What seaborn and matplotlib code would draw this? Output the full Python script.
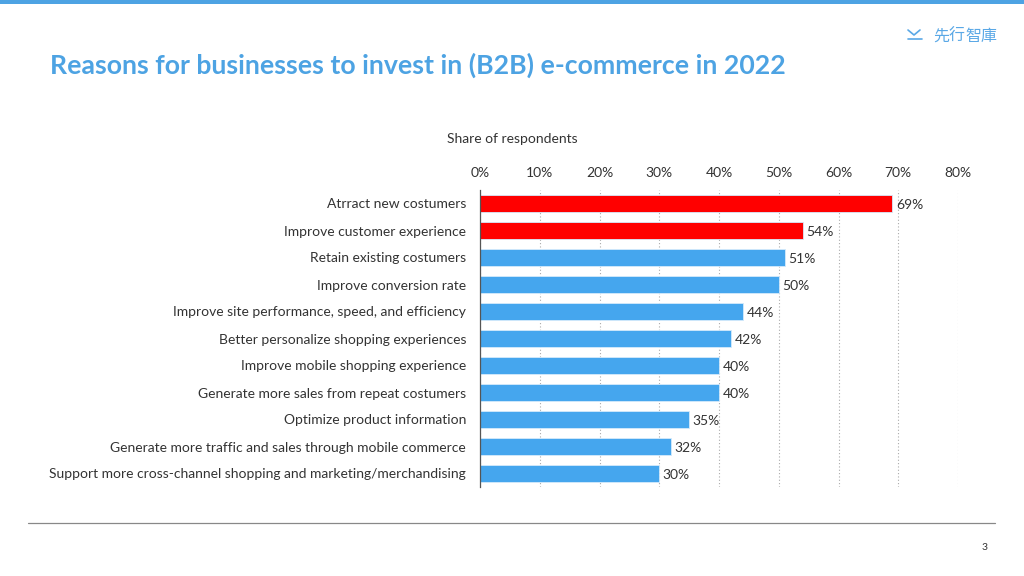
import matplotlib
matplotlib.use("Agg")
import matplotlib.pyplot as plt
import seaborn as sns
import pandas as pd
from matplotlib.lines import Line2D
from matplotlib.patches import Rectangle

categories = [
    "Atrract new costumers",
    "Improve customer experience",
    "Retain existing costumers",
    "Improve conversion rate",
    "Improve site performance, speed, and efficiency",
    "Better personalize shopping experiences",
    "Improve mobile shopping experience",
    "Generate more sales from repeat costumers",
    "Optimize product information",
    "Generate more traffic and sales through mobile commerce",
    "Support more cross-channel shopping and marketing/merchandising",
]
values = [69, 54, 51, 50, 44, 42, 40, 40, 35, 32, 30]
highlight = [True, True, False, False, False, False, False, False, False, False, False]
xticks = [0, 10, 20, 30, 40, 50, 60, 70, 80]
xticklabels = ["0%", "10%", "20%", "30%", "40%", "50%", "60%", "70%", "80%"]

RED = "#ff0000"
BLUE = "#45a6ee"
TITLE_BLUE = "#4da3e3"

sns.set_theme(style="white")
plt.rcParams["font.family"] = ["Lato", "Noto Sans CJK TC", "DejaVu Sans"]

df = pd.DataFrame({"cat": categories, "val": values,
                   "grp": ["hi" if h else "lo" for h in highlight]})

fig = plt.figure(figsize=(10.24, 5.76), dpi=100)
ax = fig.add_axes([480/1024, 1-487/576, (958-480)/1024, (487-190)/576])

sns.barplot(data=df, y="cat", x="val", hue="grp", palette={"hi": RED, "lo": BLUE},
            order=categories, dodge=False, width=0.6, legend=False, ax=ax,
            saturation=1, edgecolor="#d5eafb", linewidth=0.6)

ax.set_xlim(0, 80)
ax.set_xticks(xticks)
ax.set_xticklabels(xticklabels, fontsize=10, color="#333333")
ax.xaxis.tick_top()
ax.tick_params(axis="x", length=0, pad=8)
ax.tick_params(axis="y", length=0, pad=10, labelsize=10, labelcolor="#333333")
ax.set_ylabel("")
ax.set_xlabel("")
for s in ["top", "right", "bottom"]:
    ax.spines[s].set_visible(False)
ax.spines["left"].set_color("#555555")
ax.spines["left"].set_linewidth(0.9)
ax.xaxis.grid(True, linestyle=(0, (1, 2)), color="#aaaaaa", linewidth=0.8)
ax.set_axisbelow(True)

for i, v in enumerate(values):
    ax.text(v + 0.6, i + 0.05, f"{v}%", va="center", ha="left", fontsize=10, color="#333333")

fig.text(512/1024, 1-139/576, "Share of respondents", ha="center", va="center",
         fontsize=10, color="#333333")

# Title
fig.text(50/1024, 1-65/576, "Reasons for businesses to invest in (B2B) e-commerce in 2022",
         ha="left", va="center", fontsize=19.2, color=TITLE_BLUE, fontweight="bold")

# top bar
fig.add_artist(Rectangle((0, 1-4/576), 1, 4/576, transform=fig.transFigure,
                         color="#4da3e3", lw=0))
# bottom line
fig.add_artist(Line2D([28/1024, 995/1024], [1-523/576, 1-523/576],
                      transform=fig.transFigure, color="#888888", lw=0.9))
fig.text(985/1024, 1-548/576, "3", ha="center", va="center", fontsize=7.5, color="#333333")

# logo
for k, ch in enumerate("先行智庫"):
    fig.text((941 + k * 16)/1024, 1-36/576, ch, ha="center", va="center", fontsize=11.5,
             color="#5aa8e6", family=["Noto Sans CJK TC", "DejaVu Sans"])
fig.add_artist(Line2D([908/1024, 914/1024, 920/1024], [1-30/576, 1-35/576, 1-30/576],
                      transform=fig.transFigure, color="#5aa8e6", lw=1.2))
fig.add_artist(Line2D([908/1024, 922/1024], [1-39/576, 1-39/576],
                      transform=fig.transFigure, color="#5aa8e6", lw=1.2))

fig.savefig("out.png", dpi=100)
